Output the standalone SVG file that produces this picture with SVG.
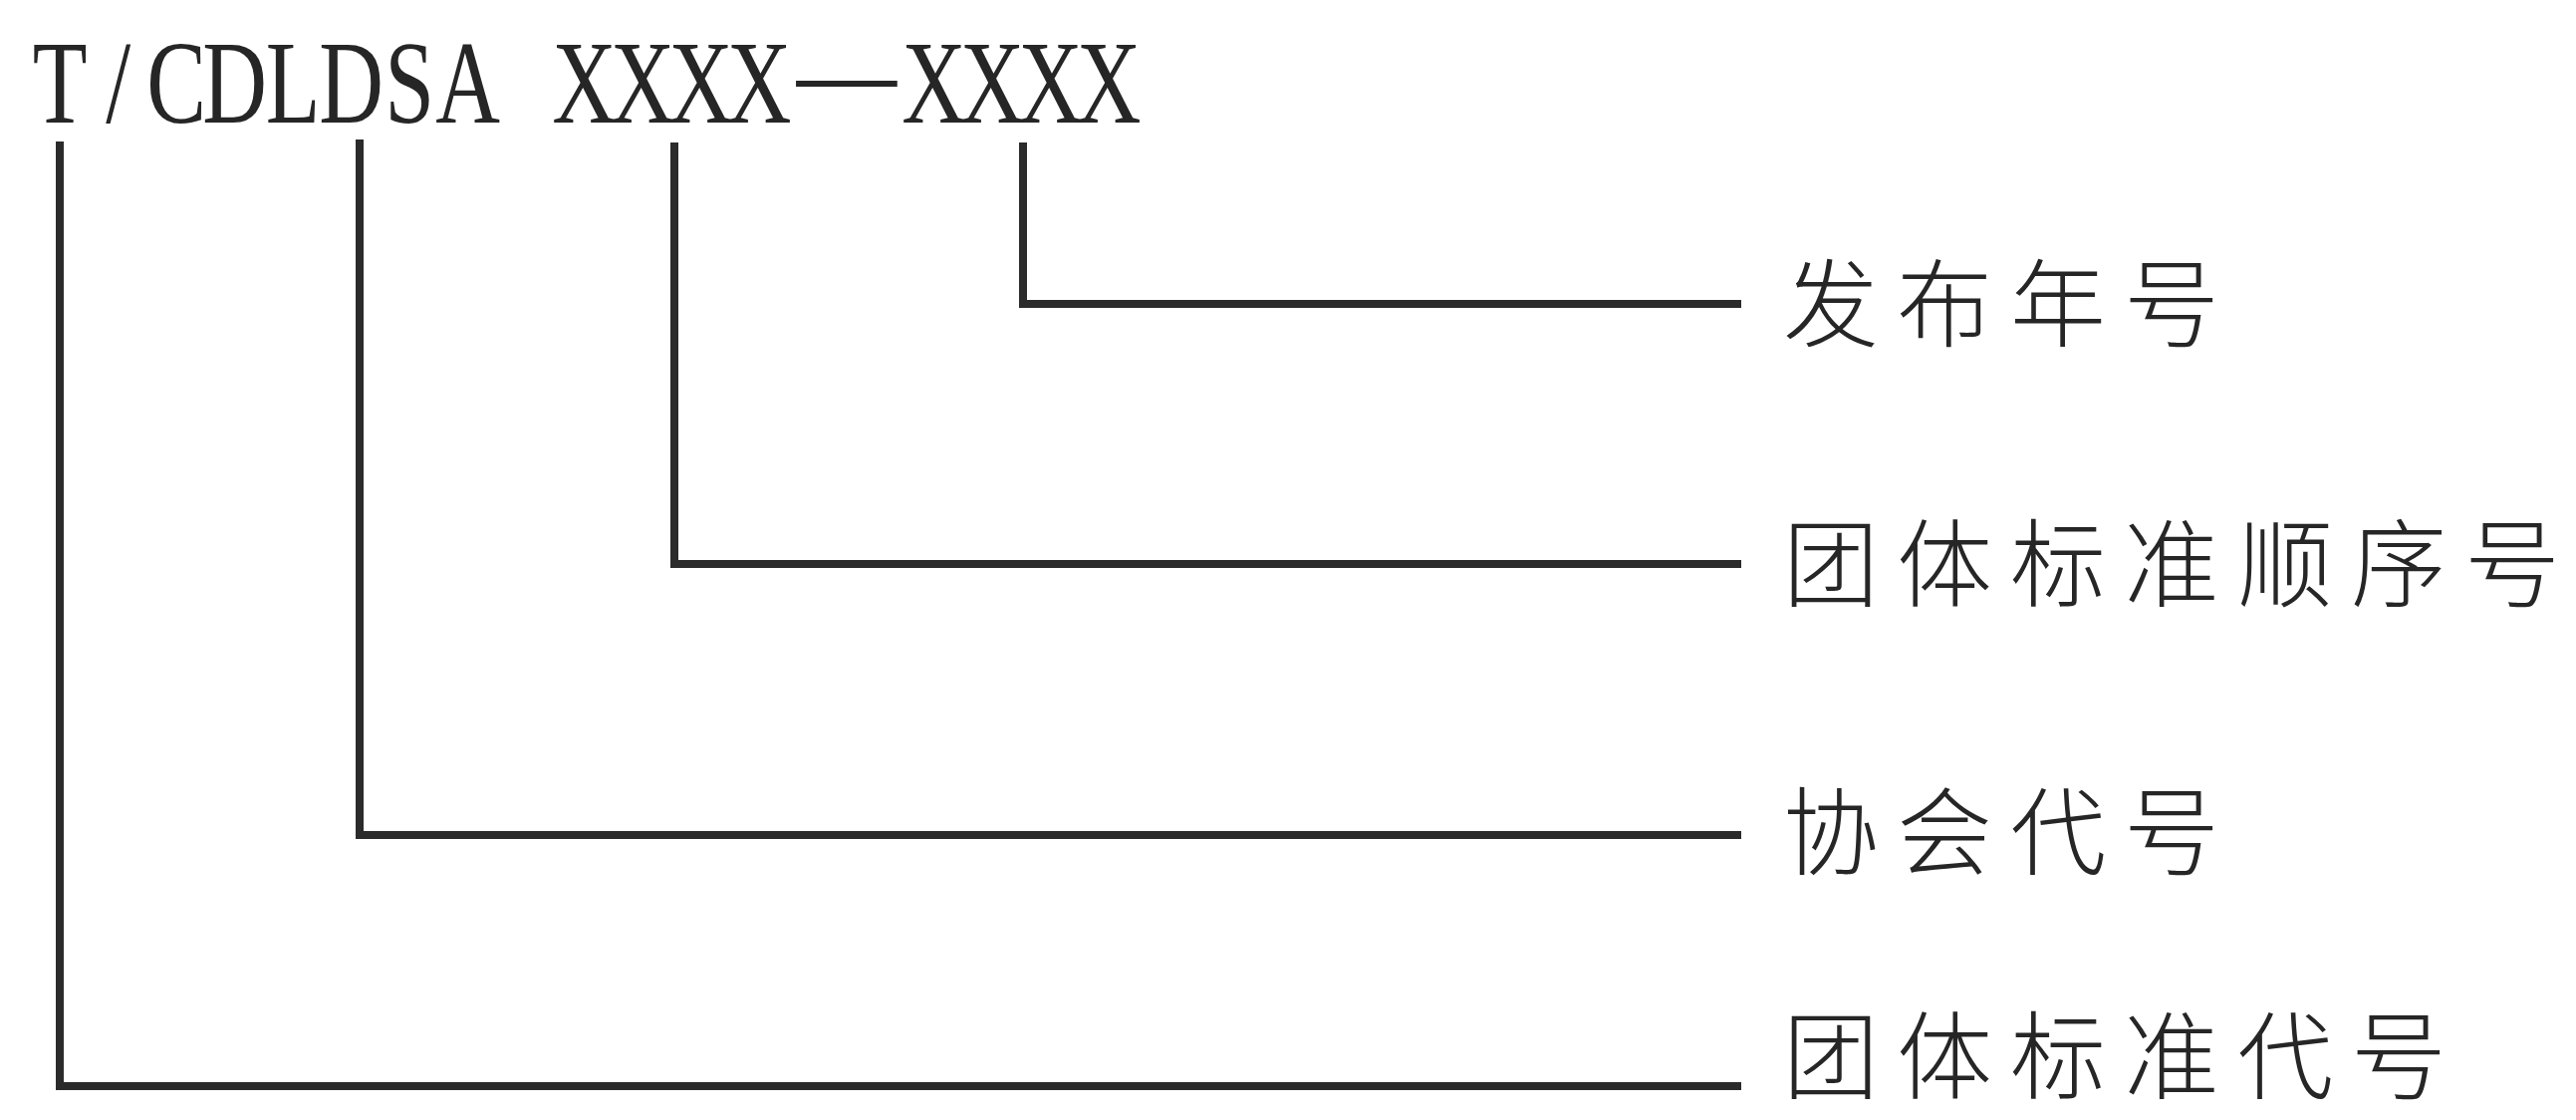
<svg xmlns="http://www.w3.org/2000/svg" width="2586" height="1124" viewBox="0 0 2586 1124">
<style>
.code{font-family:"Liberation Serif","Times New Roman",serif;font-size:118px;fill:#262626;text-anchor:middle}
.lbl{font-family:"Noto Sans CJK SC","Noto Sans CJK JP",sans-serif;font-size:96px;font-weight:300;fill:#262626;letter-spacing:18px}
.conn{fill:none;stroke:#2b2b2b;stroke-width:8;stroke-linejoin:miter;stroke-linecap:butt}
</style>
<rect width="2586" height="1124" fill="#ffffff"/>
<g id="code">
<text class="code" transform="scale(0.76,1)" y="123"><tspan x="79.28 156.25 233.22 310.20 387.17 464.14 541.12 618.09">T/CDLDSA</tspan><tspan x="772.04 849.01 925.99 1002.96">XXXX</tspan><tspan x="1233.88 1310.86 1387.83 1464.80">XXXX</tspan></text>
<text class="code" transform="scale(0.85,1)" x="1000" y="112">—</text>
</g>
<g id="connectors">
<path class="conn" d="M1027,143 V305 H1748"/>
<path class="conn" d="M677,143 V566 H1748"/>
<path class="conn" d="M361,140 V838 H1748"/>
<path class="conn" d="M60,142 V1090 H1748"/>
</g>
<g id="label-year"><text class="lbl" x="1790" y="340">发布年号</text></g>
<g id="label-seq"><text class="lbl" x="1790" y="601">团体标准顺序号</text></g>
<g id="label-assoc"><text class="lbl" x="1790" y="870">协会代号</text></g>
<g id="label-std"><text class="lbl" x="1790" y="1095">团体标准代号</text></g>
</svg>
